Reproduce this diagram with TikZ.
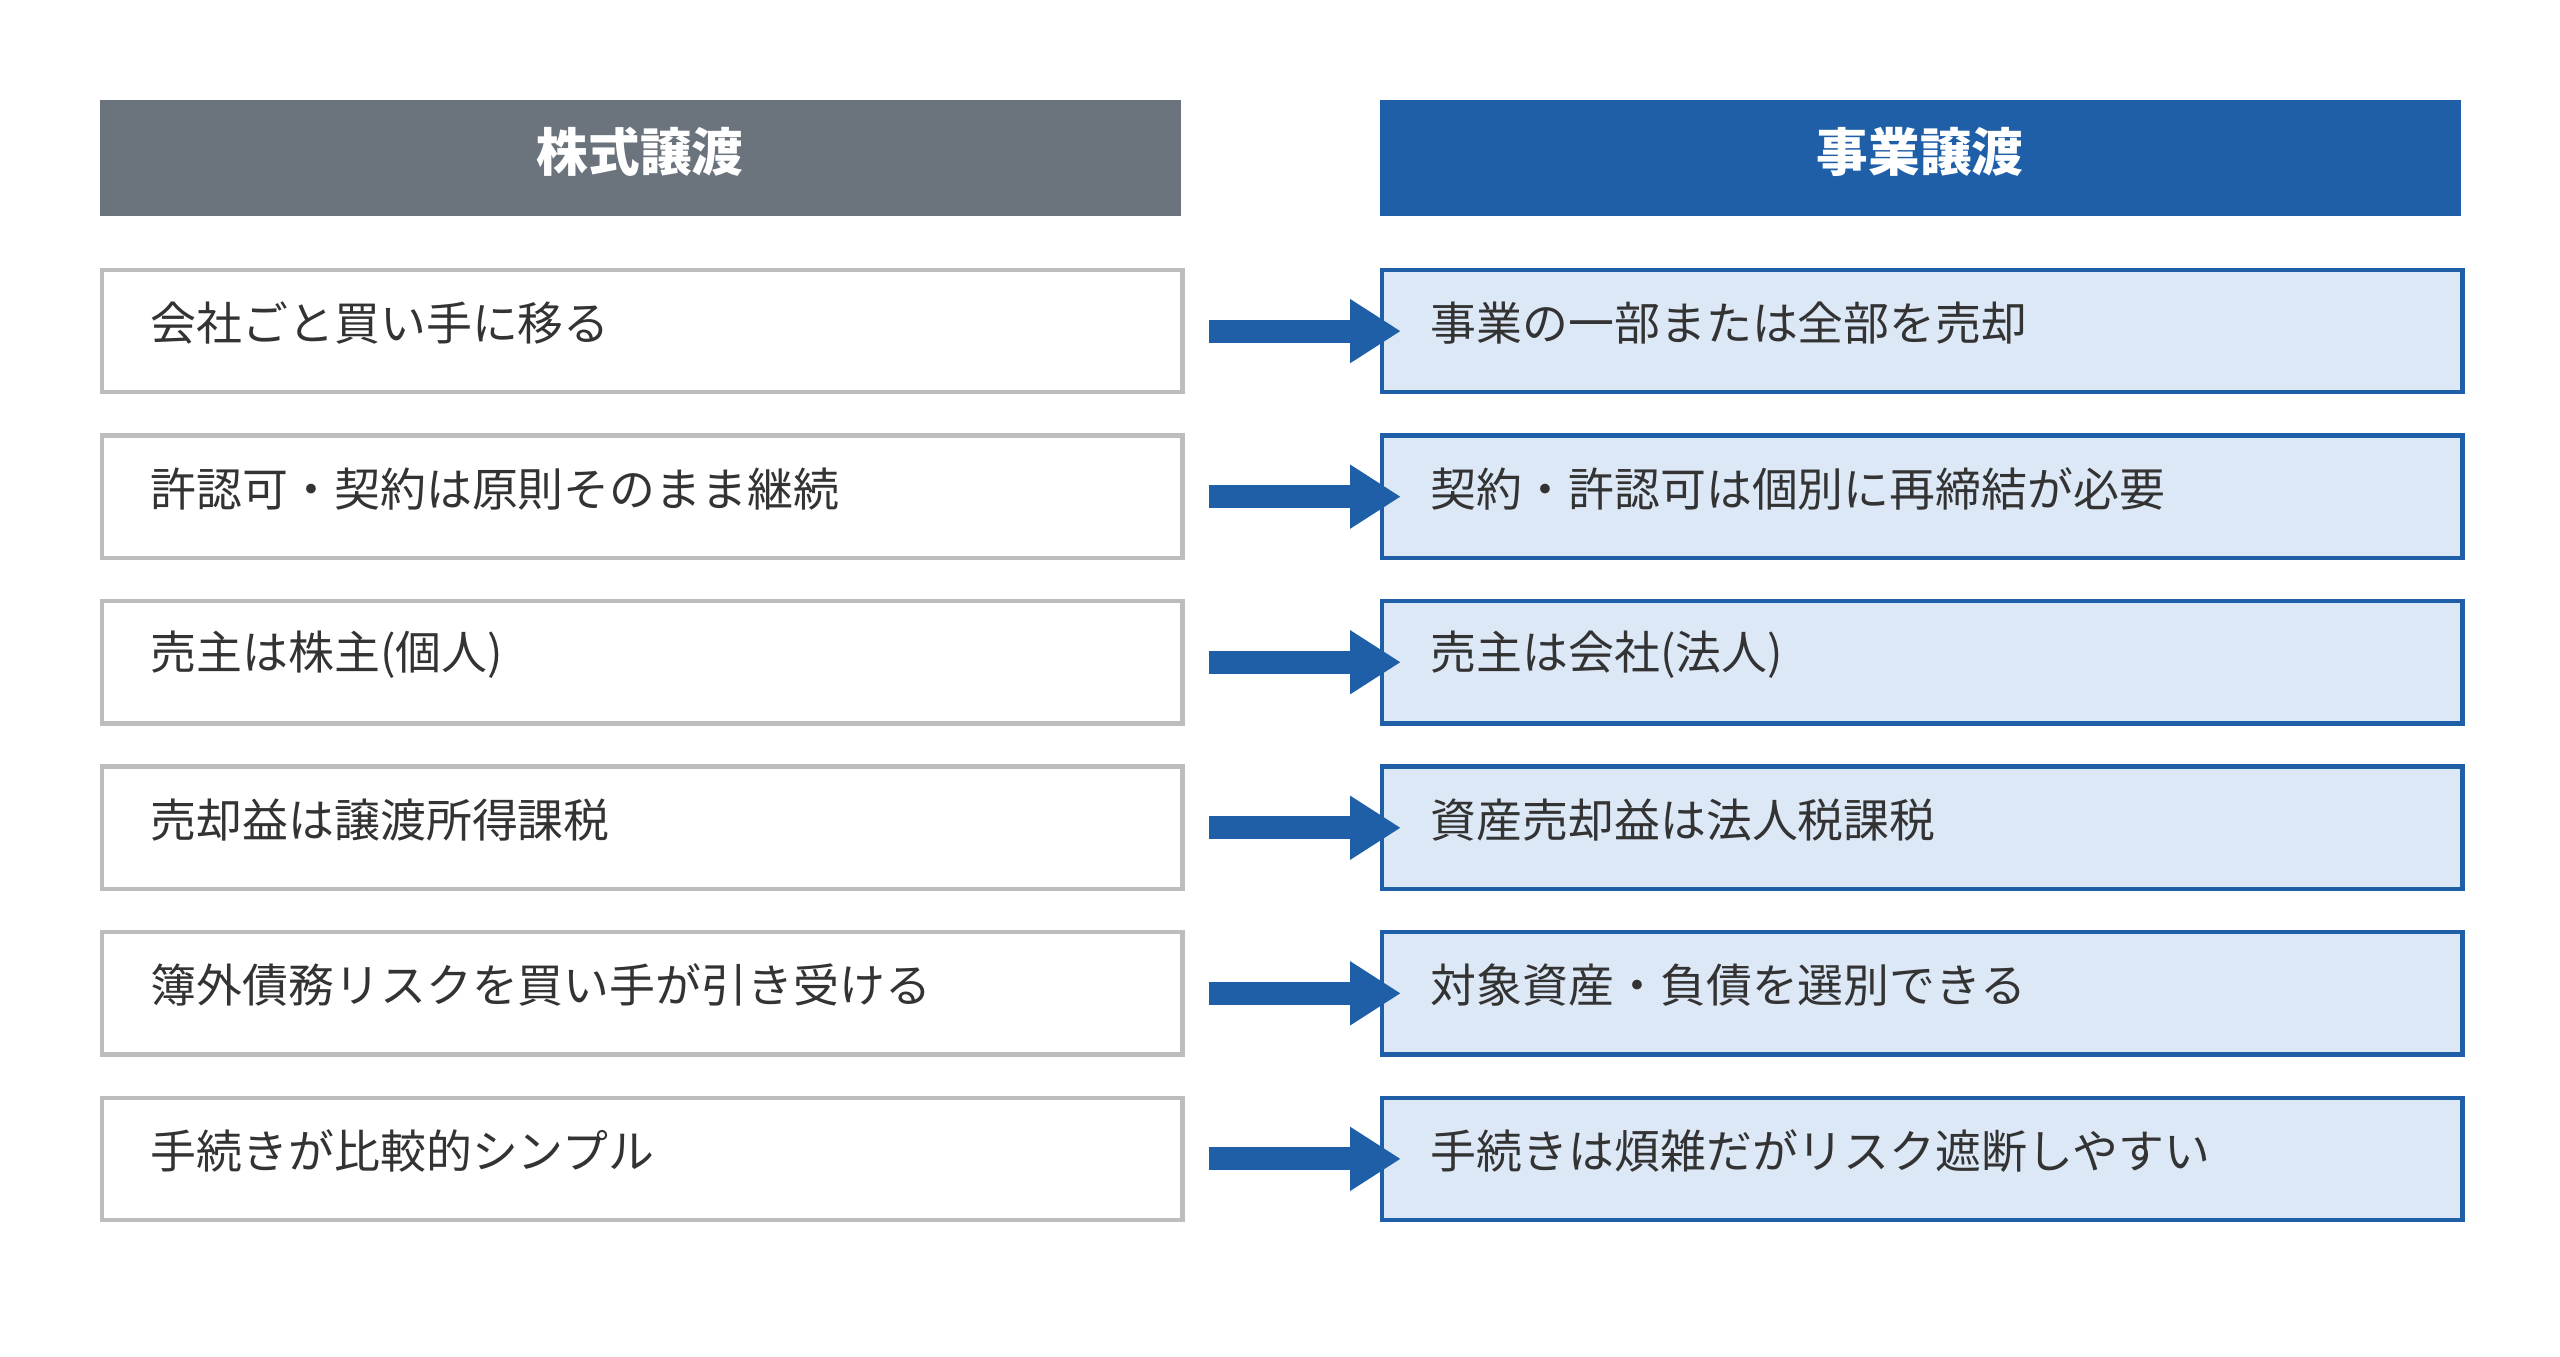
\documentclass[tikz,border=0pt]{standalone}
\usepackage{fontspec}
\setmainfont{Noto Sans CJK JP}
\usetikzlibrary{arrows.meta}
\definecolor{hdgray}{HTML}{6B737C}
\definecolor{hdblue}{HTML}{1F5FA8}
\definecolor{cellblue}{HTML}{DDE8F7}
\definecolor{cellline}{HTML}{BDBDBD}
\definecolor{txt}{HTML}{333333}
\tikzset{
  head/.style={minimum width=13.24cm, minimum height=1.42cm, inner sep=0pt,
    text=white, font=\fontsize{18}{20}\selectfont\bfseries},
  cell/.style={minimum width=13.24cm, minimum height=1.5cm, inner sep=0pt, line width=1.5pt},
  oldcell/.style={cell, draw=cellline, fill=white},
  newcell/.style={cell, draw=hdblue, fill=cellblue},
  lbl/.style={anchor=west, inner sep=0pt, text=txt, font=\fontsize{16}{18}\selectfont},
  goarrow/.style={draw=hdblue, line width=0.28cm, -{Triangle[length=0.62cm,width=0.74cm]}}
}
\begin{document}
\begin{tikzpicture}[x=0.02cm, y=-0.02cm]
  \useasboundingbox (0,0) rectangle (1568,831);
  % headers
  \node[head, fill=hdgray, anchor=north west] (hl) at (61,61) {};
  \node[text=white, font=\fontsize{18}{20}\selectfont\bfseries] (hlt) at (392,93) {株式譲渡};
  \node[head, fill=hdblue, anchor=north west] (hr) at (845,61) {};
  \node[text=white, font=\fontsize{18}{20}\selectfont\bfseries] (hrt) at (1176,93) {事業譲渡};
  % rows
  \foreach \i/\lt/\rt in {
    0/{会社ごと買い手に移る}/{事業の一部または全部を売却},
    1/{許認可・契約は原則そのまま継続}/{契約・許認可は個別に再締結が必要},
    2/{売主は株主(個人)}/{売主は会社(法人)},
    3/{売却益は譲渡所得課税}/{資産売却益は法人税課税},
    4/{簿外債務リスクを買い手が引き受ける}/{対象資産・負債を選別できる},
    5/{手続きが比較的シンプル}/{手続きは煩雑だがリスク遮断しやすい}} {
    \pgfmathsetmacro{\top}{164+101.4*\i}
    \node[oldcell, anchor=north west] (l\i) at (61,\top) {};
    \node[lbl] (lt\i) at (92,\top+34) {\lt};
    \node[newcell, anchor=north west] (r\i) at (845,\top) {};
    \node[lbl] (rt\i) at (876,\top+34) {\rt};
    \coordinate (a\i) at ([xshift=0.3cm]l\i.east);
    \coordinate (b\i) at ([xshift=0.26cm]r\i.west);
    \draw[goarrow] (a\i) -- (b\i);
  }
\end{tikzpicture}
\end{document}
